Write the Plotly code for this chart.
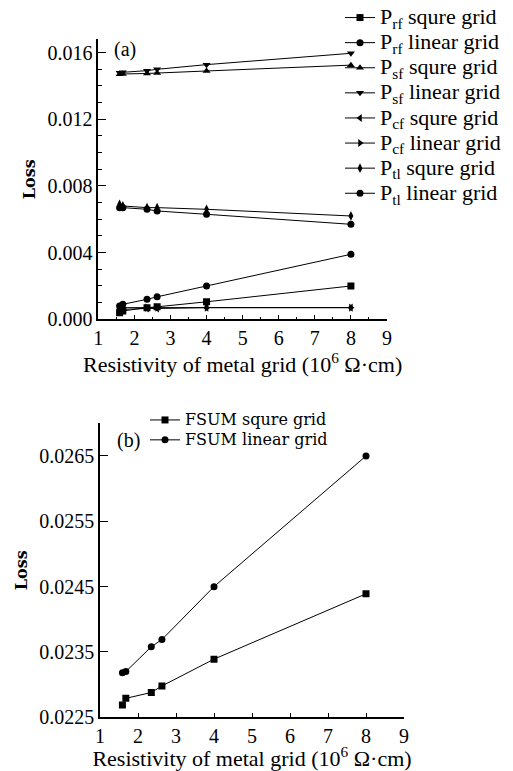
import plotly.graph_objects as go

# ---- data ----
resistivity = [1.59, 1.68, 2.35, 2.63, 4.0, 8.0]

prf_squre = [0.0004, 0.0005, 0.0007, 0.00075, 0.00105, 0.0020]
prf_linear = [0.0008, 0.0009, 0.0012, 0.00135, 0.0020, 0.0039]
psf_squre = [0.0147, 0.01472, 0.01475, 0.01478, 0.0149, 0.01525]
psf_linear = [0.0148, 0.01482, 0.01492, 0.0150, 0.01528, 0.01596]
pcf_squre = [0.0006, 0.0006, 0.00065, 0.00065, 0.0007, 0.0007]
pcf_linear = [0.0007, 0.0007, 0.0007, 0.0007, 0.0007, 0.0007]
ptl_squre = [0.0069, 0.0068, 0.0067, 0.0067, 0.0066, 0.0062]
ptl_linear = [0.0067, 0.0067, 0.0066, 0.0065, 0.0063, 0.0057]

fsum_squre = [0.02269, 0.02279, 0.02288, 0.02298, 0.02339, 0.02439]
fsum_linear = [0.02318, 0.02320, 0.02358, 0.02369, 0.0245, 0.0265]

names_a = ["P<sub>rf</sub> squre grid", "P<sub>rf</sub> linear grid",
           "P<sub>sf</sub> squre grid", "P<sub>sf</sub> linear grid",
           "P<sub>cf</sub> squre grid", "P<sub>cf</sub> linear grid",
           "P<sub>tl</sub> squre grid", "P<sub>tl</sub> linear grid"]
series_a = [prf_squre, prf_linear, psf_squre, psf_linear,
            pcf_squre, pcf_linear, ptl_squre, ptl_linear]
symbols_a = ["square", "circle", "triangle-up", "triangle-down",
             "triangle-left", "triangle-right", "diamond-tall", "circle"]

names_b = ["FSUM squre grid", "FSUM linear grid"]
series_b = [fsum_squre, fsum_linear]
symbols_b = ["square", "circle"]

x_ticks = [1, 2, 3, 4, 5, 6, 7, 8, 9]
ya_ticks = [0.0, 0.004, 0.008, 0.012, 0.016]
ya_ticktext = ["0.000", "0.004", "0.008", "0.012", "0.016"]
yb_ticks = [0.0225, 0.0235, 0.0245, 0.0255, 0.0265]
yb_ticktext = ["0.0225", "0.0235", "0.0245", "0.0255", "0.0265"]

SERIF = "Liberation Serif"
W, H = 513, 771

fig = go.Figure()
for name, ys, sym in zip(names_a, series_a, symbols_a):
    fig.add_trace(go.Scatter(
        x=resistivity, y=ys, mode="lines+markers",
        name='<span style="font-size:22px;font-family:Liberation Serif">' + name + "</span>",
        line=dict(color="black", width=1),
        marker=dict(symbol=sym, size=7, color="black"),
        xaxis="x", yaxis="y", legend="legend"))
for name, ys, sym in zip(names_b, series_b, symbols_b):
    fig.add_trace(go.Scatter(
        x=resistivity, y=ys, mode="lines+markers",
        name='<span style="font-size:16px;font-family:DejaVu Serif">' + name + "</span>",
        line=dict(color="black", width=1),
        marker=dict(symbol=sym, size=7, color="black"),
        xaxis="x2", yaxis="y2", legend="legend2"))

xtitle = "Resistivity of metal grid (10<sup>6</sup> Ω·cm)"
common_axis = dict(showline=True, linecolor="black", linewidth=1.5,
                   showgrid=False, zeroline=False, ticks="inside",
                   tickcolor="black", tickwidth=1.2, automargin=False,
                   tickfont=dict(family=SERIF, size=20, color="black"))

fig.update_layout(
    width=W, height=H,
    margin=dict(l=0, r=0, t=0, b=0),
    paper_bgcolor="white", plot_bgcolor="white",
    xaxis=dict(domain=[98.3 / W, 387 / W], range=[1, 9], tickvals=x_ticks,
               ticklen=5, anchor="y",
               minor=dict(dtick=0.5, ticks="inside", ticklen=3, tickcolor="black"),
               title=dict(text=xtitle, standoff=4,
                          font=dict(family=SERIF, size=22, color="black")),
               **common_axis),
    yaxis=dict(domain=[(H - 319.3) / H, (H - 39.3) / H], range=[0, 0.0168],
               tickvals=ya_ticks, ticktext=ya_ticktext, ticklen=8, anchor="x",
               minor=dict(tickvals=[0.001, 0.002, 0.003, 0.005, 0.006, 0.007,
                                    0.009, 0.010, 0.011, 0.013, 0.014, 0.015,
                                    0.0168],
                          ticks="inside", ticklen=4, tickcolor="black"),
               title=dict(text="<b>Loss</b>", standoff=8,
                          font=dict(family="DejaVu Serif", size=16, color="black")),
               **common_axis),
    xaxis2=dict(domain=[100 / W, 404 / W], range=[1, 9], tickvals=x_ticks,
                ticklen=5, anchor="y2",
                title=dict(text=xtitle, standoff=4,
                           font=dict(family=SERIF, size=22, color="black")),
                **common_axis),
    yaxis2=dict(domain=[(H - 717.3) / H, (H - 423.3) / H], range=[0.0225, 0.0270],
                tickvals=yb_ticks, ticktext=yb_ticktext, ticklen=8, anchor="x2",
                minor=dict(tickvals=[0.0270], ticks="inside", ticklen=4,
                           tickcolor="black"),
                title=dict(text="<b>Loss</b>", standoff=8,
                           font=dict(family="DejaVu Serif", size=16, color="black")),
                **common_axis),
    legend=dict(x=340 / W, y=1.0, xanchor="left", yanchor="top",
                bgcolor="rgba(0,0,0,0)", itemwidth=30,
                font=dict(family=SERIF, size=17, color="black")),
    legend2=dict(x=145 / W, y=(H - 405) / H, xanchor="left", yanchor="top",
                 bgcolor="rgba(0,0,0,0)", itemwidth=30,
                 font=dict(family="DejaVu Serif", size=13, color="black")),
    annotations=[
        dict(text="(a)", xref="x domain", yref="y domain", x=0.047, y=0.962,
             xanchor="left", yanchor="middle", showarrow=False,
             font=dict(family=SERIF, size=20, color="black")),
        dict(text="(b)", xref="x2 domain", yref="y2 domain", x=0.049, y=0.943,
             xanchor="left", yanchor="middle", showarrow=False,
             font=dict(family=SERIF, size=20, color="black")),
    ],
)

fig.write_html("out.html")
